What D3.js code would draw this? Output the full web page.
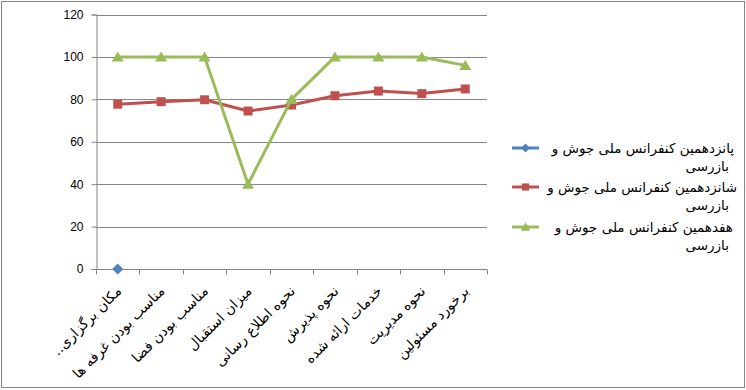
<!DOCTYPE html>
<html>
<head>
<meta charset="utf-8">
<script src="https://cdn.jsdelivr.net/npm/d3@7"></script>
<style>
  body { margin: 0; background: #fff; }
  svg { display: block; }
</style>
</head>
<body>
<svg id="chart" width="746" height="390"></svg>
<script>
// categories (x axis)
const categories = [
  "مکان برگزاری..\u200F",
  "مناسب بودن غرفه ها",
  "مناسب بودن فضا",
  "میزان استقبال",
  "نحوه اطلاع رسانی",
  "نحوه پذیرش",
  "خدمات ارائه شده",
  "نحوه مدیریت",
  "برخورد مسئولین"
];

const seriesNames = [
  "پانزدهمین کنفرانس ملی جوش و بازرسی",
  "شانزدهمین کنفرانس ملی جوش و بازرسی",
  "هفدهمین کنفرانس ملی جوش و بازرسی"
];

// values (null = no point)
const conf15 = [0, null, null, null, null, null, null, null, null];
const conf16 = [77.7, 78.9, 79.8, 74.5, 77.3, 81.7, 83.9, 82.7, 84.9];
const conf17 = [100, 100, 100, 40, 80, 100, 100, 100, 96];

const yTicks = [0, 20, 40, 60, 80, 100, 120];

const colors = ["#4F81BD", "#C0504D", "#9BBB59"];

// excel-like markers: diamond = rotated square
function marker(i, s) {
  if (i === 0) return "M0," + (-s) + "L" + s + ",0L0," + s + "L" + (-s) + ",0Z";
  if (i === 1) return "M" + (-s) + "," + (-s) + "H" + s + "V" + s + "H" + (-s) + "Z";
  return "M0," + (-s) + "L" + (s * 1.1) + "," + (s * 0.85) + "L" + (-s * 1.1) + "," + (s * 0.85) + "Z";
}
const markerR = [5.5, 4.5, 5.5];

const svg = d3.select("#chart");

// outer border like the excel chart area
svg.append("rect")
  .attr("x", 1.5).attr("y", 1.5)
  .attr("width", 743).attr("height", 386)
  .attr("fill", "#fff")
  .attr("stroke", "#868686")
  .attr("stroke-width", 1);

var plot = { left: 96, right: 487, top: 14.5, bottom: 269 };

var x = d3.scaleBand()
  .domain(categories)
  .range([plot.left, plot.right]);

var y = d3.scaleLinear()
  .domain([0, 120])
  .range([plot.bottom, plot.top]);

// gridlines
svg.append("g")
  .selectAll("line")
  .data(yTicks.filter(d => d > 0))
  .enter()
  .append("line")
  .attr("x1", plot.left).attr("x2", plot.right)
  .attr("y1", d => Math.round(y(d)) + 0.5)
  .attr("y2", d => Math.round(y(d)) + 0.5)
  .attr("stroke", "#868686")
  .attr("stroke-width", 1);

// y axis
var yAxis = d3.axisLeft(y).tickValues(yTicks).tickSize(5).tickPadding(8);
var gy = svg.append("g")
  .attr("transform", "translate(" + (plot.left + 0.5) + ",0)")
  .call(yAxis);
gy.select(".domain").attr("stroke", "#868686");
gy.selectAll(".tick line").attr("stroke", "#868686");
gy.selectAll(".tick text")
  .attr("fill", "#000")
  .style("font-family", "'Liberation Sans', Arial, sans-serif")
  .style("font-size", "12px");

// x axis: ticks between categories
var gx = svg.append("g")
  .attr("transform", "translate(0," + (Math.round(plot.bottom) + 0.5) + ")");
gx.append("line")
  .attr("x1", plot.left).attr("x2", plot.right)
  .attr("stroke", "#868686");
var bounds = categories.map(c => x(c)).concat([plot.right]);
gx.selectAll("line.tk")
  .data(bounds)
  .enter()
  .append("line")
  .attr("class", "tk")
  .attr("x1", d => Math.round(d) + 0.5).attr("x2", d => Math.round(d) + 0.5)
  .attr("y1", 0).attr("y2", 5)
  .attr("stroke", "#868686");

gx.selectAll("text")
  .data(categories)
  .enter()
  .append("text")
  .attr("transform", d => "translate(" + (x(d) + x.bandwidth() / 2 + 1) + ",19) rotate(-45)")
  .attr("text-anchor", "end")
  .attr("dy", "0.35em")
  .attr("fill", "#000")
  .style("font-family", "'DejaVu Sans', sans-serif")
  .style("font-size", "14px")
  .text(d => d);

// series
var allSeries = [conf15, conf16, conf17];
var line = d3.line()
  .defined(d => d.v !== null)
  .x(d => x(d.c) + x.bandwidth() / 2)
  .y(d => y(d.v));

allSeries.forEach(function (vals, i) {
  var pts = vals.map((v, j) => ({ c: categories[j], v: v }));
  svg.append("path")
    .datum(pts)
    .attr("d", line)
    .attr("fill", "none")
    .attr("stroke", colors[i])
    .attr("stroke-width", 3)
    .attr("stroke-linejoin", "round");
  svg.append("g")
    .selectAll("path")
    .data(pts.filter(d => d.v !== null))
    .enter()
    .append("path")
    .attr("d", marker(i, markerR[i]))
    .attr("transform", d => "translate(" + (x(d.c) + x.bandwidth() / 2) + "," + y(d.v) + ")")
    .attr("fill", colors[i]);
});

// legend
var legendY = [148, 187, 227];
var legendRight = [734, 737, 733];
var leg = svg.append("g");
seriesNames.forEach(function (name, i) {
  var g = leg.append("g").attr("transform", "translate(0," + legendY[i] + ")");
  g.append("line")
    .attr("x1", 512).attr("x2", 539)
    .attr("stroke", colors[i]).attr("stroke-width", 3);
  g.append("path")
    .attr("d", marker(i, markerR[i] * 0.8))
    .attr("transform", "translate(525.5,0)")
    .attr("fill", colors[i]);
  var words = name.split(" ");
  var first = words.slice(0, -1).join(" ");
  var second = words[words.length - 1];
  g.append("text")
    .attr("x", legendRight[i]).attr("y", 5)
    .attr("text-anchor", "end")
    .style("font-family", "'DejaVu Sans', sans-serif")
    .style("font-size", "13.5px")
    .text(first);
  g.append("text")
    .attr("x", 729).attr("y", 23)
    .attr("text-anchor", "end")
    .style("font-family", "'DejaVu Sans', sans-serif")
    .style("font-size", "13.5px")
    .text(second);
});
</script>
</body>
</html>
